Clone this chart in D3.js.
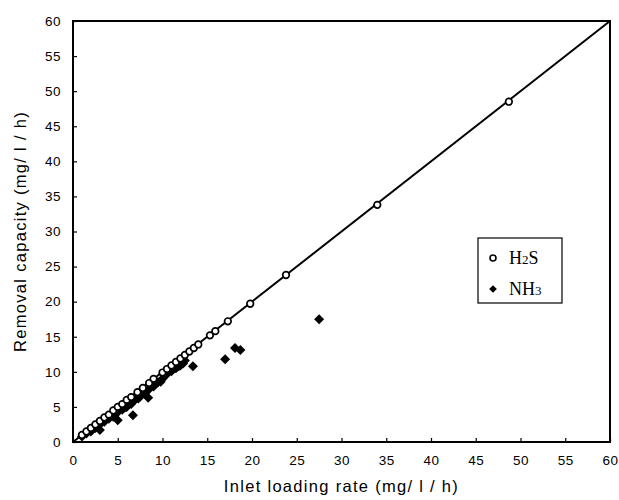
<!DOCTYPE html>
<html>
<head>
<meta charset="utf-8">
<script src="https://cdn.jsdelivr.net/npm/d3@7"></script>
<style>
body { margin: 0; background: #fff; }
</style>
</head>
<body>
<div id="chart"></div>
<script>
// H2S: inlet loading rate vs removal capacity
let h2sX = [1.0, 1.5, 2.0, 2.5, 3.0, 3.5, 4.0, 4.5, 5.0, 5.5, 6.0, 6.5, 7.2, 7.8, 8.5, 9.0, 10.0, 10.5, 11.0, 11.5, 12.0, 12.5, 13.0, 13.5, 14.0, 15.3, 15.9, 17.3, 19.8, 23.8, 34.0, 48.7];
let h2sY = [1.0, 1.5, 2.0, 2.5, 3.0, 3.5, 3.9, 4.5, 5.0, 5.4, 6.0, 6.4, 7.1, 7.7, 8.4, 9.0, 9.9, 10.4, 10.9, 11.4, 11.9, 12.4, 12.9, 13.4, 13.9, 15.2, 15.8, 17.2, 19.7, 23.8, 33.8, 48.5];

// NH3
let nh3X = [1.0, 1.5, 2.0, 2.5, 2.7, 3.0, 3.0, 3.5, 4.0, 4.5, 4.8, 5.0, 5.0, 5.5, 5.8, 6.0, 6.5, 6.7, 7.0, 7.3, 7.5, 8.0, 8.4, 8.5, 9.0, 9.5, 9.8, 10.0, 10.2, 10.5, 11.0, 11.5, 11.8, 12.0, 12.3, 12.5, 13.4, 17.0, 18.1, 18.7, 27.5];
let nh3Y = [0.8, 1.2, 1.5, 2.0, 2.3, 1.7, 2.5, 2.9, 3.3, 3.6, 4.0, 3.1, 4.3, 4.6, 4.9, 5.0, 5.4, 3.8, 6.1, 6.2, 6.5, 6.9, 6.3, 7.5, 7.9, 8.5, 8.6, 9.0, 9.5, 9.7, 10.1, 10.5, 10.8, 10.9, 11.2, 11.6, 10.8, 11.8, 13.4, 13.1, 17.5];

let xTicks = d3.range(0, 61, 5);
let yTicks = d3.range(0, 61, 5);

let margin = {left: 73, top: 21, right: 9, bottom: 58};
let width = 619, height = 500;
let sans = "'Liberation Sans', Arial, sans-serif";
let serif = "'Liberation Serif', 'Times New Roman', serif";

let svg = d3.select("#chart").append("svg")
    .attr("width", width).attr("height", height);

let xScale = d3.scaleLinear().domain([0, 60]).range([margin.left, width - margin.right]);
let yScale = d3.scaleLinear().domain([0, 60]).range([height - margin.bottom, margin.top]);

let xAxis = d3.axisBottom(xScale).tickValues(xTicks).tickSizeInner(-4).tickSizeOuter(0).tickPadding(13);
let yAxis = d3.axisLeft(yScale).tickValues(yTicks).tickSizeInner(-4).tickSizeOuter(0).tickPadding(12);

let gx = svg.append("g")
    .attr("transform", "translate(0," + yScale(0) + ")")
    .call(xAxis);
let gy = svg.append("g")
    .attr("transform", "translate(" + xScale(0) + ",0)")
    .call(yAxis);

[gx, gy].forEach(function(g) {
    g.select(".domain").remove();
    g.selectAll("line").attr("stroke", "#000").attr("stroke-width", 1.2);
    g.selectAll("text").attr("font-size", 13.5).attr("fill", "#000")
        .style("font-family", sans).style("letter-spacing", "0.5px");
});

// frame
svg.append("rect")
    .attr("x", xScale(0)).attr("y", yScale(60))
    .attr("width", xScale(60) - xScale(0))
    .attr("height", yScale(0) - yScale(60))
    .attr("fill", "none").attr("stroke", "#000").attr("stroke-width", 2);

// 1:1 line
svg.append("line")
    .attr("x1", xScale(0)).attr("y1", yScale(0))
    .attr("x2", xScale(60)).attr("y2", yScale(60))
    .attr("stroke", "#000").attr("stroke-width", 2);

// NH3 diamonds (rotated squares)
let diamond = d3.symbol().type(d3.symbolSquare).size(50);
svg.selectAll(".nh3")
    .data(d3.range(nh3X.length))
    .enter().append("path")
    .attr("class", "nh3")
    .attr("d", diamond)
    .attr("transform", function(i) { return "translate(" + xScale(nh3X[i]) + "," + yScale(nh3Y[i]) + ") rotate(45)"; })
    .attr("fill", "#000");

// H2S circles
svg.selectAll(".h2s")
    .data(d3.range(h2sX.length))
    .enter().append("circle")
    .attr("class", "h2s")
    .attr("cx", function(i) { return xScale(h2sX[i]); })
    .attr("cy", function(i) { return yScale(h2sY[i]); })
    .attr("r", 3.3)
    .attr("fill", "#fff")
    .attr("stroke", "#000")
    .attr("stroke-width", 1.7);

// axis titles
svg.append("text")
    .attr("x", (xScale(0) + xScale(60)) / 2).attr("y", 492)
    .attr("text-anchor", "middle").attr("font-size", 16.5)
    .style("font-family", sans).style("letter-spacing", "1.3px")
    .text("Inlet loading rate (mg/ l / h)");
svg.append("text")
    .attr("transform", "translate(26," + ((yScale(0) + yScale(60)) / 2) + ") rotate(-90)")
    .attr("text-anchor", "middle").attr("font-size", 16.5)
    .style("font-family", sans).style("letter-spacing", "1.3px")
    .text("Removal capacity (mg/ l / h)");

// legend
let lg = svg.append("g").attr("transform", "translate(478,238)");
lg.append("rect").attr("width", 84).attr("height", 65)
    .attr("fill", "#fff").attr("stroke", "#000").attr("stroke-width", 1.2);
lg.append("circle").attr("cx", 15).attr("cy", 20).attr("r", 3)
    .attr("fill", "#fff").attr("stroke", "#000").attr("stroke-width", 1.6);
lg.append("path").attr("d", d3.symbol().type(d3.symbolSquare).size(30))
    .attr("transform", "translate(15,51) rotate(45)").attr("fill", "#000");

let h2sText = lg.append("text").attr("x", 31).attr("y", 26)
    .style("font-family", serif).attr("font-size", 18);
h2sText.append("tspan").text("H");
h2sText.append("tspan").attr("font-size", 13).text("2");
h2sText.append("tspan").text("S");

let nh3Text = lg.append("text").attr("x", 31).attr("y", 57)
    .style("font-family", serif).attr("font-size", 18);
nh3Text.append("tspan").text("NH");
nh3Text.append("tspan").attr("font-size", 13).text("3");
</script>
</body>
</html>
